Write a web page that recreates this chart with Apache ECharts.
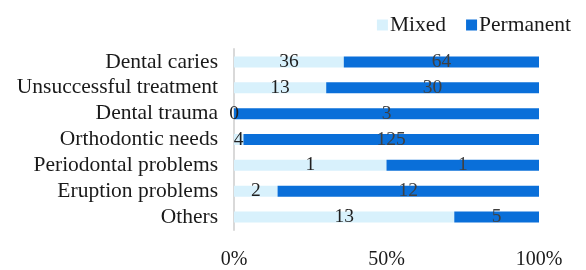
<!DOCTYPE html>
<html>
<head>
<meta charset="utf-8">
<script src="https://cdn.jsdelivr.net/npm/echarts@6/dist/echarts.min.js"></script>
<style>
  html, body { margin: 0; padding: 0; background: #fff; }
  #chart { width: 586px; height: 270px; }
</style>
</head>
<body>
<div id="chart"></div>
<script>
const categories = [
  'Dental caries',
  'Unsuccessful treatment',
  'Dental trauma',
  'Orthodontic needs',
  'Periodontal problems',
  'Eruption problems',
  'Others',
]
const mixed = [36, 13, 0, 4, 1, 2, 13]
const permanent = [64, 30, 3, 125, 1, 12, 5]
const xTicks = [0, 50, 100]

const font = 'Liberation Serif, Times New Roman, serif'
const totals = mixed.map((m, i) => m + permanent[i])
const share = (arr) => arr.map((v, i) => (v / totals[i]) * 100)

const chart = echarts.init(document.getElementById('chart'))
chart.setOption({
  animation: false,
  textStyle: { fontFamily: font },
  legend: {
    data: ['Mixed', 'Permanent'],
    right: 10,
    top: 9,
    itemWidth: 11,
    itemHeight: 11,
    itemGap: 20,
    icon: 'rect',
    textStyle: { fontFamily: font, fontSize: 21.5, color: '#1a1a1a', padding: [0, 0, 0, -3] },
  },
  grid: { left: 234, right: 47, top: 49, bottom: 34 },
  xAxis: {
    type: 'value',
    min: 0,
    max: 100,
    interval: 50,
    axisLine: { show: false },
    axisTick: { show: false },
    splitLine: { show: false },
    axisLabel: {
      fontFamily: font,
      fontSize: 20,
      color: '#1a1a1a',
      margin: 20,
      formatter: (v) => (xTicks.includes(v) ? v + '%' : ''),
    },
  },
  yAxis: {
    type: 'category',
    data: categories,
    inverse: true,
    axisLine: { show: true, lineStyle: { color: '#d9d9d9', width: 2 } },
    axisTick: { show: false },
    axisLabel: { interval: 0, fontFamily: font, fontSize: 21.5, color: '#1a1a1a', margin: 16 },
  },
  series: [
    {
      name: 'Mixed',
      type: 'bar',
      stack: 'total',
      barWidth: 11,
      data: share(mixed),
      itemStyle: { color: '#d8f1fc' },
      label: {
        show: true,
        position: 'inside',
        fontFamily: font,
        fontSize: 19.5,
        color: '#1f1f1f',
        formatter: (p) => String(mixed[p.dataIndex]),
      },
    },
    {
      name: 'Permanent',
      type: 'bar',
      stack: 'total',
      barWidth: 11,
      data: share(permanent),
      itemStyle: { color: '#0a6fd9' },
      label: {
        show: true,
        position: 'inside',
        fontFamily: font,
        fontSize: 19.5,
        color: '#404040',
        formatter: (p) => String(permanent[p.dataIndex]),
      },
    },
  ],
})
</script>
</body>
</html>
